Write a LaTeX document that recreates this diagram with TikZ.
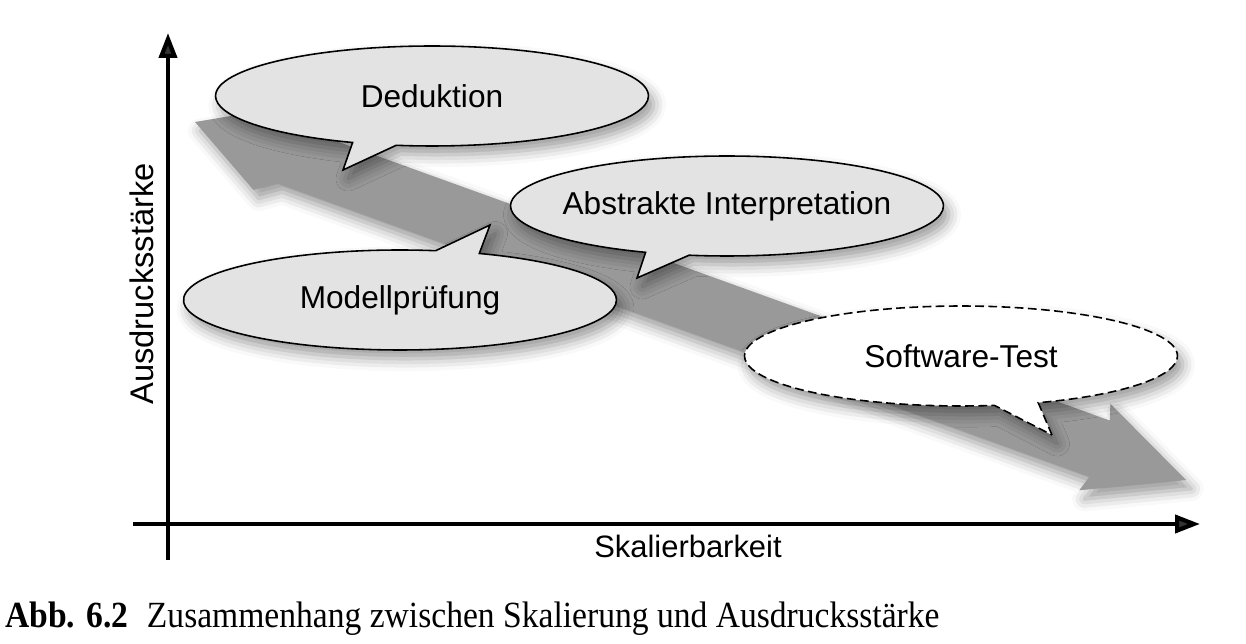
\documentclass[tikz,border=0pt]{standalone}
\usepackage{fontspec}
\setmainfont{Liberation Serif}
\setsansfont{Liberation Sans}
\usetikzlibrary{calc}
\usetikzlibrary{arrows.meta}
\usetikzlibrary{shapes.callouts}
\usetikzlibrary{shadows.blur}

\begin{document}
\begin{tikzpicture}[
     x=0.02cm, y=-0.02cm,
     soft/.style={blur shadow={shadow xshift=3pt, shadow yshift=-5pt,
       shadow blur radius=7pt, shadow opacity=40}},
     bubble/.style={ellipse callout, draw, fill=black!11, line width=0.9pt,
       minimum width=8.66cm, minimum height=2cm, inner xsep=-1cm, inner ysep=0pt,
       callout pointer arc=12, soft,
       font=\sffamily\fontsize{18}{22}\selectfont},
     axis/.style={line width=2.4pt, -{Triangle[length=0.5cm, width=0.36cm]}},
     lbl/.style={font=\sffamily\fontsize{17.6}{21}\selectfont}
   ]
   \path[use as bounding box] (0,0) rectangle (1246,644);
   % Broad arrow.
   \fill[black!40, soft] (195,122) -- (283.4,107.1) -- (297.4,127.1)
     -- (1109.7,420.5) -- (1110.4,403.7) -- (1186,480) -- (1079.2,490.3)
     -- (1089.3,476.9) -- (277,183.5) -- (253.4,189.9) -- cycle;
   % Callouts.
   \coordinate (dedtip) at (343,170);
   \coordinate (abstip) at (637,278);
   \coordinate (modtip) at (490,225);
   \coordinate (swttip) at (1052,435);
   \node[bubble, callout absolute pointer={(dedtip)}] (ded) at (432,96) {Deduktion};
   \node[bubble, callout absolute pointer={(abstip)}] (abs) at (727,206) {Abstrakte Interpretation};
   \node[bubble, callout absolute pointer={(modtip)}] (mod) at (400,300) {Modellprüfung};
   \node[bubble, fill=white, dashed, dash pattern=on 5pt off 2.5pt,
     callout absolute pointer={(swttip)}] (swt) at (961,356) {Software-Test};
   % Axes.
   \coordinate (ybot) at (168,560);
   \coordinate (ytop) at (168,33);
   \coordinate (xleft) at (133,524);
   \coordinate (xright) at (1200,524);
   \draw[axis] (ybot) -- (ytop);
   \draw[axis] (xleft) -- (xright);
   \node[lbl, rotate=90, font=\sffamily\fontsize{18.6}{22}\selectfont] (ylab) at (142,284) {Ausdrucksstärke};
   \node[lbl] (xlab) at (688,546) {Skalierbarkeit};
   % Caption.
   \node[anchor=base west, inner sep=0pt, font=\fontsize{21}{25}\selectfont]
     (cap) at (5,627) {\scalebox{0.91}[1]{\textbf{Abb. 6.2}\hspace{0.55em}Zusammenhang zwischen Skalierung und Ausdrucksstärke}};
\end{tikzpicture}
\end{document}
